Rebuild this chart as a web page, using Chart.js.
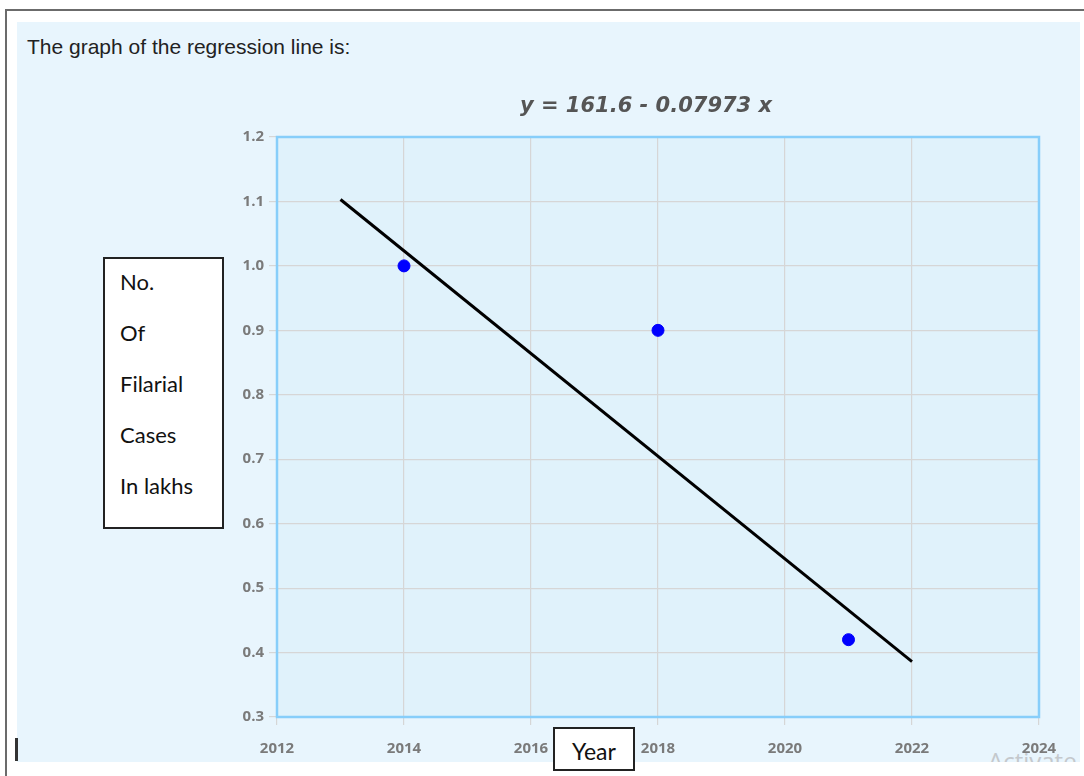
<!DOCTYPE html>
<html>
<head>
<meta charset="utf-8">
<script src="https://cdn.jsdelivr.net/npm/chart.js@4"></script>
<style>
  html, body { margin: 0; padding: 0; background: #fff; }
  body { width: 1084px; height: 776px; position: relative; overflow: hidden; }
  #frameTop { position: absolute; left: 6px; top: 9px; width: 1078px; height: 2px; background: #6b6b6b; }
  #frameLeft { position: absolute; left: 5px; top: 9px; width: 2px; height: 767px; background: #6b6b6b; }
  #panel { position: absolute; left: 17px; top: 22px; width: 1063px; height: 740px; background: #e8f5fd; overflow: hidden; }
  #heading { position: absolute; left: 27px; top: 35px; font: 21px "Liberation Sans", Arial, sans-serif; color: #222; }
  #chartCanvas { position: absolute; left: 0; top: 0; }
  #yLabelBox { position: absolute; left: 103px; top: 257px; width: 117px; height: 268px; background: #fff; border: 2px solid #222; font: 22px Lato, sans-serif; color: #111; }
  #yLabelBox div { position: absolute; left: 15px; }
  #yearBox { position: absolute; left: 553px; top: 727px; width: 78px; height: 40px; background: #fff; border: 2px solid #222; font: 23px Lato, sans-serif; color: #111; text-align: center; line-height: 44px; }
  #cursor { position: absolute; left: 15px; top: 738px; width: 3px; height: 23px; background: #333; }
  #watermark { position: absolute; left: 971px; top: 722px; font: 24px "Open Sans", sans-serif; color: #c4c8cc; }
</style>
</head>
<body>
<div id="frameTop"></div>
<div id="frameLeft"></div>
<div id="panel"><div id="watermark">Activate</div></div>
<div id="heading">The graph of the regression line is:</div>
<canvas id="chartCanvas" width="1084" height="776"></canvas>
<div id="yLabelBox">
  <div style="top:9px">No.</div>
  <div style="top:60px">Of</div>
  <div style="top:111px">Filarial</div>
  <div style="top:162px">Cases</div>
  <div style="top:213px">In lakhs</div>
</div>
<div id="yearBox">Year</div>
<div id="cursor"></div>
<script>
// observed points (year, cases in lakhs)
const obsYears = [2014, 2018, 2021];
const obsCases = [1.0, 0.9, 0.42];
// regression line end points
const lineYears = [2013, 2022];
const lineCases = [1.103, 0.386];
const titleText = 'y = 161.6 - 0.07973 x';

// plot background, light blue frame and the equation above it
const plotBox = {
    id: 'plotBox',
    beforeDraw(chart) {
        const a = chart.chartArea;
        const ctx = chart.ctx;
        ctx.save();
        ctx.fillStyle = '#e0f2fb';
        ctx.fillRect(a.left, a.top, a.right - a.left, a.bottom - a.top);
        ctx.restore();
    },
    beforeDatasetsDraw(chart) {
        const a = chart.chartArea;
        const ctx = chart.ctx;
        ctx.save();
        ctx.strokeStyle = '#87cefa';
        ctx.lineWidth = 2.5;
        ctx.strokeRect(a.left, a.top, a.right - a.left, a.bottom - a.top);
        ctx.restore();
    },
    afterDraw(chart) {
        const a = chart.chartArea;
        const ctx = chart.ctx;
        ctx.save();
        ctx.fillStyle = '#555';
        ctx.font = 'italic bold 21px "DejaVu Sans", sans-serif';
        ctx.textAlign = 'center';
        ctx.textBaseline = 'middle';
        ctx.fillText(titleText, (a.left + a.right) / 2 - 12, a.top - 30);
        ctx.restore();
    }
};

const tickFont = { family: '"Open Sans", sans-serif', size: 15, weight: 'bold' };

const ctx = document.getElementById('chartCanvas').getContext('2d');
new Chart(ctx, {
    type: 'scatter',
    data: {
        datasets: [{
            label: 'Observed',
            data: obsYears.map((x, i) => ({ x: x, y: obsCases[i] })),
            backgroundColor: '#0000ff',
            borderColor: '#0000ff',
            pointRadius: 6,
            pointHoverRadius: 6
        }, {
            type: 'line',
            label: 'Regression',
            data: lineYears.map((x, i) => ({ x: x, y: lineCases[i] })),
            borderColor: '#000',
            borderWidth: 3,
            pointRadius: 0,
            fill: false
        }]
    },
    options: {
        responsive: false,
        animation: false,
        devicePixelRatio: 1,
        layout: { padding: { left: 200, right: 45, top: 137, bottom: 0 } },
        plugins: {
            legend: { display: false },
            tooltip: { enabled: false },
            title: { display: false }
        },
        scales: {
            x: {
                type: 'linear',
                min: 2012,
                max: 2024,
                afterFit(scale) { scale.height = 59; },
                ticks: {
                    stepSize: 2,
                    color: '#7a7a7a',
                    font: tickFont,
                    padding: 15,
                    maxRotation: 0,
                    callback: v => String(v)
                },
                grid: { color: '#d6d6d6', tickLength: 8, lineWidth: 1.2 },
                border: { display: false }
            },
            y: {
                min: 0.3,
                max: 1.2,
                afterFit(scale) { scale.width = 77; },
                ticks: {
                    stepSize: 0.1,
                    color: '#7a7a7a',
                    font: tickFont,
                    padding: 5,
                    callback: v => v.toFixed(1)
                },
                grid: { color: '#d6d6d6', tickLength: 8, lineWidth: 1.2 },
                border: { display: false }
            }
        }
    },
    plugins: [plotBox]
});
</script>
</body>
</html>
